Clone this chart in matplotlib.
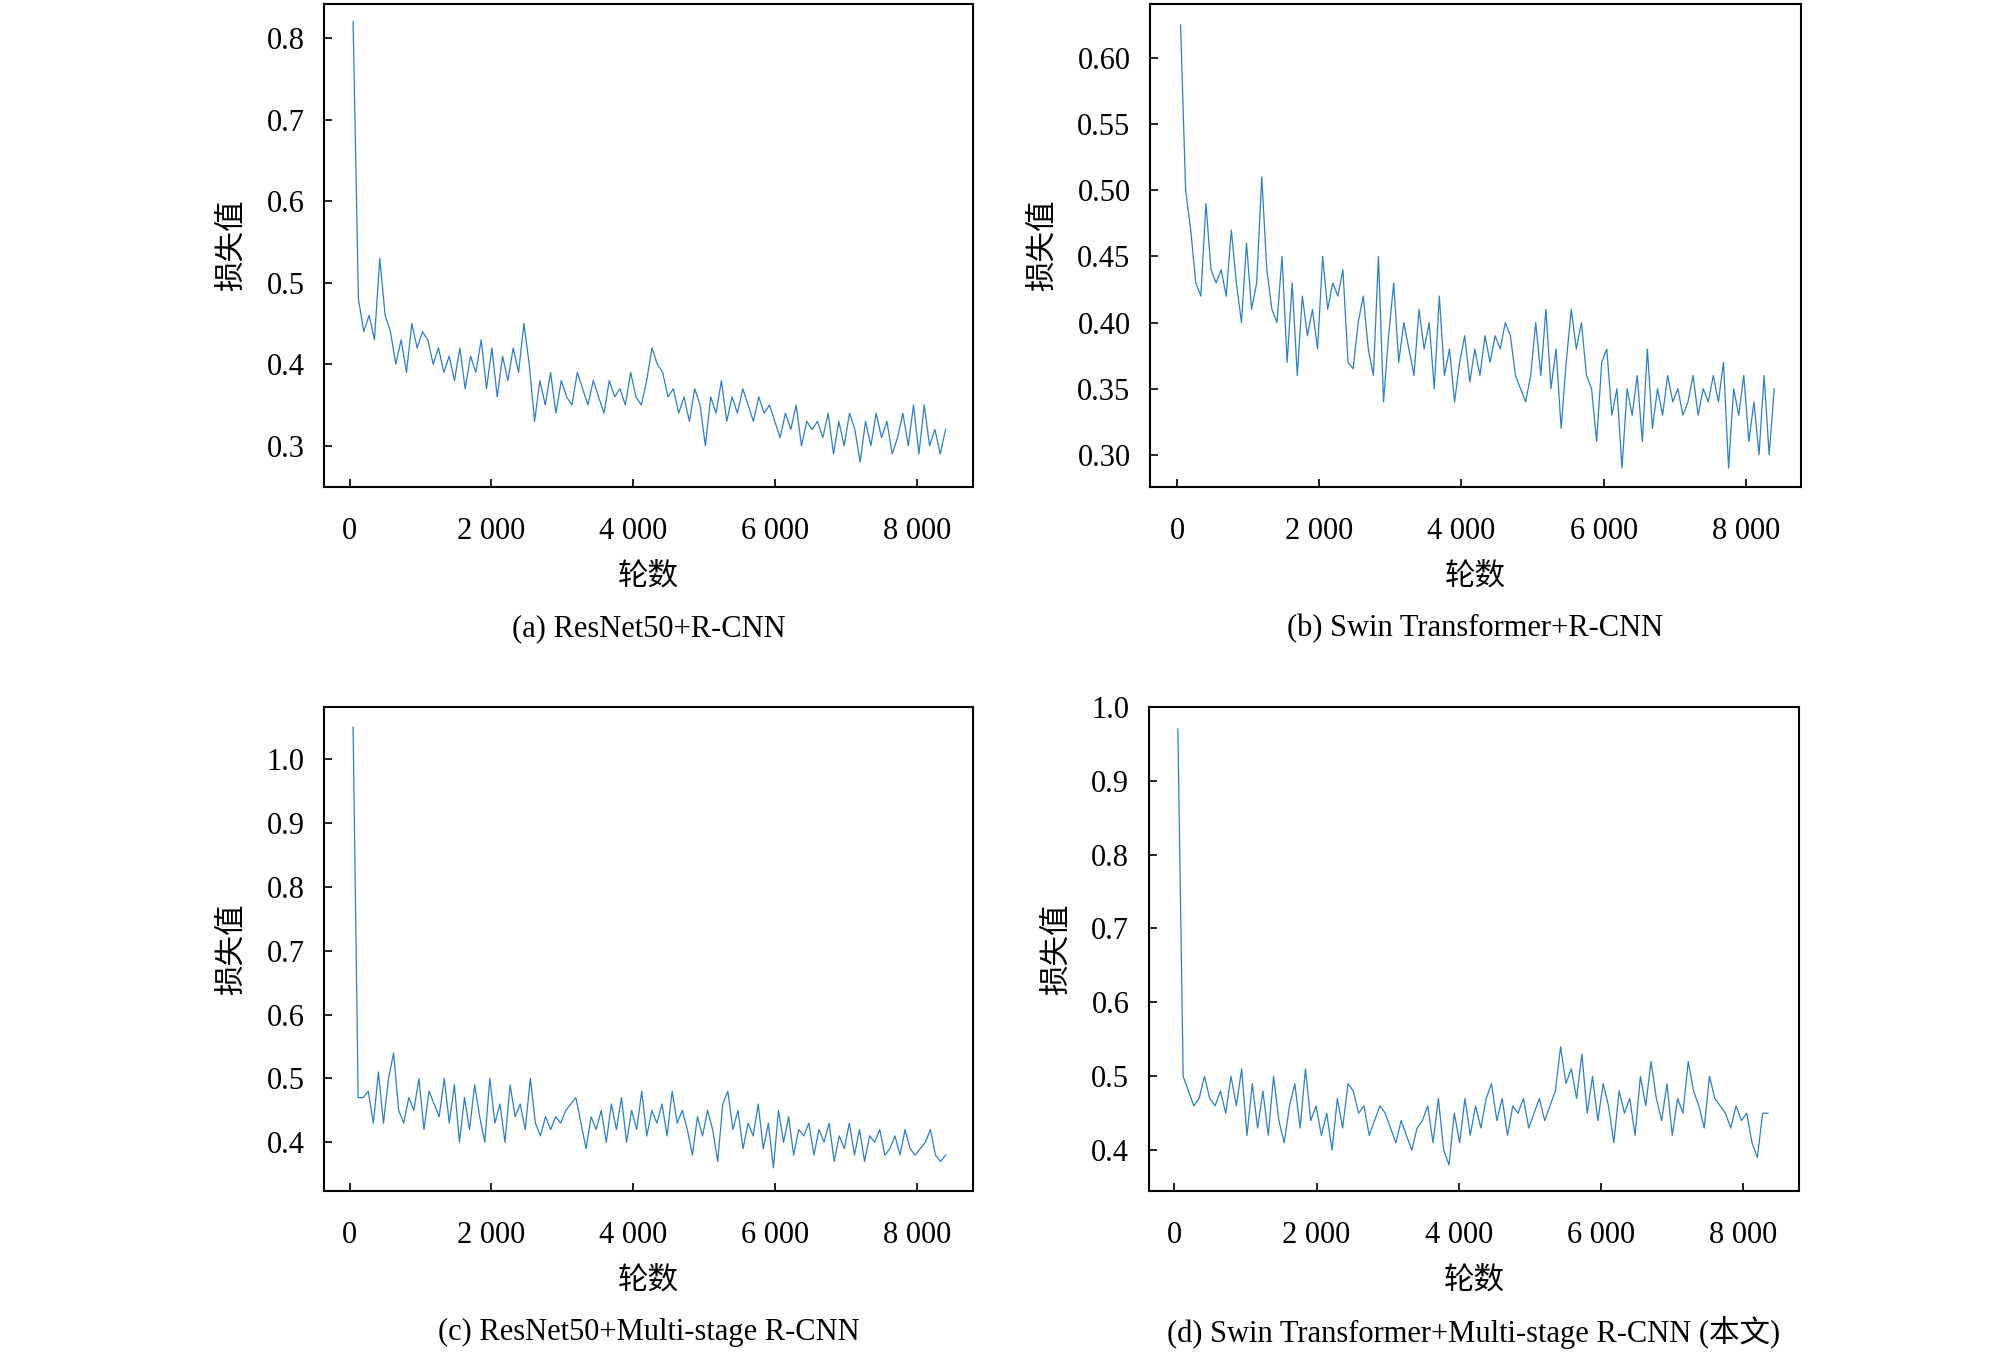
import numpy as np
import matplotlib
matplotlib.use("Agg")
import matplotlib.pyplot as plt

loss_a = [0.82,0.48,0.44,0.46,0.43,0.53,0.46,0.44,0.40,0.43,0.39,0.45,0.42,0.44,0.43,0.40,0.42,0.39,0.41,0.38,0.42,0.37,0.41,0.39,0.43,0.37,0.42,0.36,0.41,0.38,0.42,0.39,0.45,0.40,0.33,0.38,0.35,0.39,0.34,0.38,0.36,0.35,0.39,0.37,0.35,0.38,0.36,0.34,0.38,0.36,0.37,0.35,0.39,0.36,0.35,0.38,0.42,0.40,0.39,0.36,0.37,0.34,0.36,0.33,0.37,0.35,0.30,0.36,0.34,0.38,0.33,0.36,0.34,0.37,0.35,0.33,0.36,0.34,0.35,0.33,0.31,0.34,0.32,0.35,0.30,0.33,0.32,0.33,0.31,0.34,0.29,0.33,0.30,0.34,0.32,0.28,0.33,0.30,0.34,0.31,0.33,0.29,0.31,0.34,0.30,0.35,0.29,0.35,0.30,0.32,0.29,0.32]
loss_b = [0.625,0.50,0.47,0.43,0.42,0.49,0.44,0.43,0.44,0.42,0.47,0.43,0.40,0.46,0.41,0.43,0.51,0.44,0.41,0.40,0.45,0.37,0.43,0.36,0.42,0.39,0.41,0.38,0.45,0.41,0.43,0.42,0.44,0.37,0.365,0.40,0.42,0.38,0.36,0.45,0.34,0.39,0.43,0.37,0.40,0.38,0.36,0.41,0.38,0.40,0.35,0.42,0.36,0.38,0.34,0.37,0.39,0.355,0.38,0.36,0.39,0.37,0.39,0.38,0.40,0.39,0.36,0.35,0.34,0.36,0.40,0.36,0.41,0.35,0.38,0.32,0.37,0.41,0.38,0.40,0.36,0.35,0.31,0.37,0.38,0.33,0.35,0.29,0.35,0.33,0.36,0.31,0.38,0.32,0.35,0.33,0.36,0.34,0.35,0.33,0.34,0.36,0.33,0.35,0.34,0.36,0.34,0.37,0.29,0.35,0.33,0.36,0.31,0.34,0.30,0.36,0.30,0.35]
loss_c = [1.05,0.47,0.47,0.48,0.43,0.51,0.43,0.50,0.54,0.45,0.43,0.47,0.45,0.50,0.42,0.48,0.46,0.44,0.50,0.43,0.49,0.40,0.47,0.42,0.49,0.44,0.40,0.50,0.43,0.46,0.40,0.49,0.44,0.46,0.42,0.50,0.43,0.41,0.44,0.42,0.44,0.43,0.45,0.46,0.47,0.43,0.39,0.44,0.42,0.45,0.40,0.46,0.42,0.47,0.40,0.45,0.42,0.48,0.41,0.45,0.43,0.46,0.41,0.48,0.43,0.45,0.42,0.38,0.44,0.41,0.45,0.42,0.37,0.46,0.48,0.42,0.45,0.39,0.43,0.41,0.46,0.39,0.43,0.36,0.45,0.40,0.44,0.38,0.42,0.41,0.43,0.38,0.42,0.40,0.43,0.37,0.41,0.39,0.43,0.38,0.42,0.37,0.41,0.40,0.42,0.38,0.39,0.41,0.38,0.42,0.39,0.38,0.39,0.40,0.42,0.38,0.37,0.38]
loss_d = [0.97,0.50,0.48,0.46,0.47,0.50,0.47,0.46,0.48,0.45,0.50,0.46,0.51,0.42,0.49,0.43,0.48,0.42,0.50,0.44,0.41,0.46,0.49,0.43,0.51,0.44,0.46,0.42,0.45,0.40,0.47,0.43,0.49,0.48,0.45,0.46,0.42,0.44,0.46,0.45,0.43,0.41,0.44,0.42,0.40,0.43,0.44,0.46,0.41,0.47,0.40,0.38,0.45,0.41,0.47,0.42,0.46,0.43,0.47,0.49,0.44,0.47,0.42,0.46,0.45,0.47,0.43,0.45,0.47,0.44,0.46,0.48,0.54,0.49,0.51,0.47,0.53,0.45,0.50,0.44,0.49,0.46,0.41,0.48,0.45,0.47,0.42,0.50,0.46,0.52,0.47,0.44,0.49,0.42,0.47,0.45,0.52,0.48,0.46,0.43,0.50,0.47,0.46,0.45,0.43,0.46,0.44,0.45,0.41,0.39,0.45,0.45]
end_iter = [8400, 8400, 8400, 8350]
captions = ["(a) ResNet50+R-CNN", "(b) Swin Transformer+R-CNN",
            "(c) ResNet50+Multi-stage R-CNN", "(d) Swin Transformer+Multi-stage R-CNN (本文)"]
xticks = [0, 2000, 4000, 6000, 8000]
xticklabels = ["0", "2 000", "4 000", "6 000", "8 000"]
yticks = [[0.3,0.4,0.5,0.6,0.7,0.8],
          [0.30,0.35,0.40,0.45,0.50,0.55,0.60],
          [0.4,0.5,0.6,0.7,0.8,0.9,1.0],
          [0.4,0.5,0.6,0.7,0.8,0.9,1.0]]
yfmt = ["%.1f", "%.2f", "%.1f", "%.1f"]

serif = ["Liberation Serif", "Noto Sans CJK SC"]
cjk = ["Noto Sans CJK SC"]
fs = 22

fig = plt.figure(figsize=(20.08, 13.56), dpi=100)
W, H = 1568, 1059
boxes = [(253, 760, 3, 380), (898, 1406, 3, 380), (253, 760, 552, 930), (897, 1405, 552, 930)]
xlims = [(-360, 8790), (-380, 8770), (-360, 8790), (-360, 8790)]
ylims = [(0.25, 0.842), (0.276, 0.641), (0.324, 1.082), (0.345, 1.0)]
series = [loss_a, loss_b, loss_c, loss_d]

for i in range(4):
    l, r, t, b = boxes[i]
    ax = fig.add_axes([l/W, 1-b/H, (r-l)/W, (b-t)/H])
    y = series[i]
    x = np.linspace(50, end_iter[i], len(y))
    ax.plot(x, y, color="#2a7fd4", lw=0.9)
    ax.set_xlim(*xlims[i]); ax.set_ylim(*ylims[i])
    ax.set_xticks(xticks)
    ax.set_xticklabels(xticklabels, family=serif, fontsize=fs)
    ax.set_yticks(yticks[i])
    ax.set_yticklabels([yfmt[i] % v for v in yticks[i]], family=serif, fontsize=fs)
    ax.tick_params(direction="in", length=6, width=1.2)
    ax.tick_params(axis="x", pad=22)
    ax.tick_params(axis="y", pad=14)
    for s in ax.spines.values():
        s.set_linewidth(1.5)
    ax.set_ylabel("损失值", family=cjk, fontsize=fs, labelpad=14)
    cx = (l + r) / 2 / W
    fig.text(cx, 1 - (b + 70)/H, "轮数", family=cjk, fontsize=fs, ha="center", va="center")
    fig.text(cx, 1 - (b + 111)/H, captions[i], family=serif, fontsize=fs, ha="center", va="center")

fig.savefig("out.png", dpi=100, facecolor="white")
